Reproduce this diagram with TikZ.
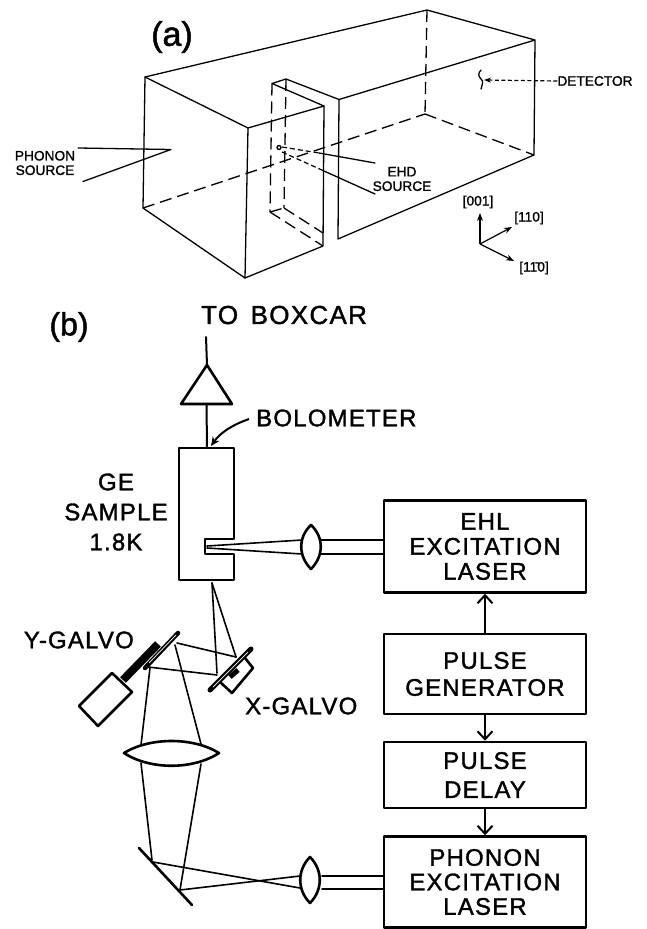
\documentclass[tikz,border=0pt]{standalone}
\usepackage{fontspec}
\setmainfont{Liberation Sans}
\newfontfamily\bigfont[LetterSpace=5,FakeBold=1.5]{Liberation Sans}
\newfontfamily\smallfont[FakeBold=1.2]{Liberation Sans}
\newfontfamily\parenfont[FakeBold=1.5]{Liberation Sans}
\usetikzlibrary{arrows.meta,calc}
\tikzset{
 thin line/.style={line width=1.3pt,line cap=round,line join=round},
 dash line/.style={line width=1.3pt,dash pattern=on 12pt off 6pt},
 heavy/.style={line width=2.6pt,line join=round,line cap=round},
 beam/.style={line width=2pt,line cap=round},
 ray/.style={line width=1.6pt,line cap=round},
 box/.style={heavy,draw,minimum width=202pt,inner sep=0pt,align=center},
 lab/.style={inner sep=0pt,align=center,font=\fontsize{24}{25}\bigfont},
 small/.style={inner sep=0pt,font=\fontsize{13.7}{14.5}\smallfont,align=center},
 arr/.style={-{Stealth[length=8pt,width=6pt]},line width=1.2pt},
 flow/.style={-{Straight Barb[length=8pt,width=15pt,line width=2pt]},line width=2.2pt},
}
\begin{document}
\begin{tikzpicture}[x=1pt,y=-1pt]
\useasboundingbox (0,0) rectangle (646,929);
% (a)
\node[inner sep=0pt,font=\fontsize{34}{34}\parenfont] (la) at (172,37) {(a)};
\draw[thin line] (145,77) -- (427,10) -- (535,40) -- (534,155) -- (338,239) -- (339,99.5) -- (535,40);
\draw[thin line] (145,77) -- (143,208) -- (245,278) -- (248,128) -- cycle;
\draw[thin line] (248,128) -- (324,106) -- (323,246) -- (245,278);
\draw[thin line] (324,106) -- (272,83.5) -- (286,79) -- (339,99.5);
\draw[dash line] (427,10) -- (425,114);
\draw[dash line] (425,114) -- (534,155);
\draw[dash line] (143,208) -- (425,114);
\draw[dash line] (272,83.5) -- (270,212);
\draw[dash line] (286,79) -- (284,208);
\draw[dash line] (270,212) -- (284,208);
\draw[dash line] (270,212) -- (323,246);
\draw[dash line] (284,208) -- (323,233);
% sources
\coordinate (ps) at (171,149.5);
\draw[thin line] (78,148) -- (ps) -- (83,181.5);
\node[small] (phonon) at (45,163) {PHONON\\SOURCE};
\draw[thin line] (279,147.5) circle (2pt);
\draw[line width=1.2pt,dash pattern=on 5pt off 3pt] (282,147) -- (319,153);
\draw[thin line] (319,153) -- (375,163);
\draw[line width=1.2pt,dash pattern=on 5pt off 3pt] (282,152) -- (324,171);
\draw[thin line] (324,171) -- (375,194);
\node[small] (ehd) at (402,179) {EHD\\SOURCE};
\node[small] (det) at (595,81) {DETECTOR};
\coordinate (dx) at (484,80);
\draw[thin line] (481,70) .. controls (478,73) and (478,76) .. (481,79) .. controls (484,81) and (482,85) .. (481,89);
\draw[line width=1.2pt,dash pattern=on 4pt off 2.5pt,-{Stealth[length=7pt,width=5pt]}] (det.west) -- (dx);
\coordinate (o) at (480,244);
\draw[arr] (o) -- (480,213);
\draw[arr] (o) -- (512,227);
\draw[arr] (o) -- (514,261);
\node[small] (a1) at (478,202) {[001]};
\node[small] (a2) at (529,218) {[110]};
\node[small] (a3) at (534,268) {[1\={1}0]};
% (b)
\node[inner sep=0pt,font=\fontsize{32}{32}\parenfont] (lb) at (69,327) {(b)};
\node[lab,font=\fontsize{26}{26}\bigfont,anchor=west] (boxcar) at (201,315) {TO\hspace{4pt} BOXCAR};
\node[lab,anchor=west] (bol) at (256,418) {BOLOMETER};
\node[lab,font=\fontsize{24}{30}\bigfont] (ge) at (116,512) {GE\\SAMPLE\\1.8K};
% amplifier
\coordinate (ampT) at (207,365);
\coordinate (ampL) at (181,404);
\coordinate (ampR) at (232,404);
\draw[heavy] (ampT) -- (ampL) -- (ampR) -- cycle;
\coordinate (wireT) at (206,337);
\draw[beam] (wireT) -- (ampT);
\coordinate (sT) at (207,447);
\draw[beam] ($(ampL)!0.5!(ampR)$) -- (sT);
\draw[-{Stealth[length=9pt,width=8pt]},line width=2pt] (249,419) .. controls (232,425) and (220,433) .. (211,446);
% sample
\draw[heavy] (179,448) -- (234,448) -- (234,539) -- (205,539) -- (205,554) -- (234,554) -- (234,580) -- (179,580) -- cycle;
\draw[ray] (207,546) -- (302,540);
\draw[ray] (207,548) -- (302,554);
% small lens 1
\draw[heavy] (311,525) .. controls (298,537) and (298,556) .. (311,569) .. controls (324,556) and (324,537) .. (311,525) -- cycle;
% boxes
\node[box,minimum height=92pt,font=\fontsize{24}{25}\bigfont] (ehl) at (485,546.5) {EHL\\EXCITATION\\LASER};
\draw[beam] (321,540) -- (ehl.west |- 0,540);
\draw[beam] (321,554) -- (ehl.west |- 0,554);
\node[box,minimum height=80pt,font=\fontsize{24}{27}\bigfont] (pg) at (485,674) {PULSE\\GENERATOR};
\node[box,minimum height=66pt,font=\fontsize{24}{29}\bigfont] (pd) at (485,775) {PULSE\\DELAY};
\node[box,minimum height=91pt,font=\fontsize{24}{24.5}\bigfont] (pel) at (485,882) {PHONON\\EXCITATION\\LASER};
\draw[flow] (pg) -- (ehl);
\draw[flow] (pg) -- (pd);
\draw[flow] (pd) -- (pel);
% galvos
\node[lab,anchor=east] (yg) at (134,640) {Y-GALVO};
\node[lab,anchor=west] (xg) at (245,706) {X-GALVO};
% Y galvo
\draw[line width=8pt] (123,680) -- (158,644);
\draw[heavy,fill=white] (112,673) -- (79,706) -- (98,726) -- (132,692) -- cycle;
\draw[line width=4.5pt,line cap=round] (145,668) -- (178,633);
\draw[white,line width=.7pt] (149,663) -- (176,635);
% X galvo
\draw[heavy] (220,682) -- (232,693) -- (253,668) -- (245,658);
\draw[line width=5pt] (230,677) -- (238,670);
\draw[line width=5pt,line cap=round] (210,690) -- (251,649);
\draw[white,line width=.7pt] (213,687) -- (248,652);
% beams
\draw[ray] (212,583) -- (217,673);
\draw[ray] (212,583) -- (236,657);
\draw[ray] (177,643) -- (236,657);
\draw[ray] (148,667) -- (217,675);
\draw[ray] (150,668) -- (141,745);
\draw[ray] (175,645) -- (201,744);
% big lens
\draw[heavy] (124,753) .. controls (150,737) and (193,737) .. (219,753) .. controls (193,770) and (150,770) .. (124,753) -- cycle;
\draw[ray] (141,763) -- (152,860);
\draw[ray] (201,764) -- (180,890);
% mirror 2
\draw[heavy] (139,848) -- (192,905);
% beam to lens 2
\draw[ray] (153,862) -- (300,888);
\draw[ray] (180,890) -- (300,876);
\draw[heavy] (310,857) .. controls (297,870) and (297,890) .. (310,903) .. controls (323,890) and (323,870) .. (310,857) -- cycle;
\draw[beam] (322,876) -- (pel.west |- 0,876);
\draw[beam] (322,889) -- (pel.west |- 0,889);
\end{tikzpicture}
\end{document}
